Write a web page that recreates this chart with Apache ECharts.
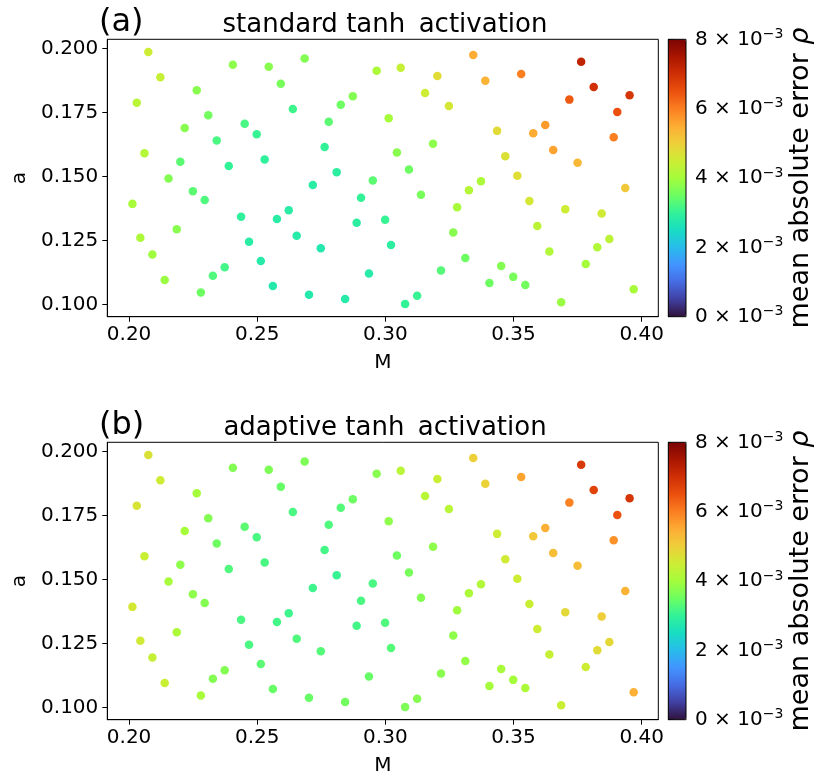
<!DOCTYPE html>
<html>
<head>
<meta charset="utf-8">
<script src="https://cdn.jsdelivr.net/npm/echarts@6/dist/echarts.min.js"></script>
<style>
html, body { margin: 0; padding: 0; background: #fff; }
#chart { width: 831px; height: 782px; }
</style>
</head>
<body>
<div id="chart"></div>
<script>
// sample positions (same in both panels)
var M = [0.2075,0.2122,0.2030,0.2405,0.2545,0.2685,0.2264,0.2592,0.2966,0.2873,
         0.2826,0.2639,0.2309,0.3013,0.2217,0.2451,0.2779,0.2498,0.2342,0.2763,
         0.2060,0.2200,0.2389,0.2529,0.2810,0.2154,0.2951,0.2013,0.2249,0.2295,
         0.2717,0.2905,0.2437,0.2577,0.2623,0.2888,0.2999,0.2044,0.2186,0.2468,
         0.2654,0.3022,0.2091,0.2514,0.2748,0.2373,0.2327,0.2936,0.2139,0.2561,
         0.2280,0.2702,0.2843,0.3060,0.3343,0.3764,0.3203,0.3390,0.3530,0.3813,
         0.3953,0.3718,0.3155,0.3248,0.3905,0.3436,0.3577,0.3624,0.3891,0.3045,
         0.3186,0.3468,0.3655,0.3750,0.3092,0.3515,0.3373,0.3936,0.3139,0.3326,
         0.3562,0.3280,0.3702,0.3844,0.3593,0.3265,0.3874,0.3640,0.3827,0.3312,
         0.3782,0.3452,0.3217,0.3499,0.3406,0.3546,0.3969,0.3124,0.3077,0.3686];
var A = [0.1986,0.1887,0.1788,0.1936,0.1928,0.1961,0.1837,0.1862,0.1913,0.1813,
         0.1780,0.1763,0.1739,0.1727,0.1689,0.1706,0.1714,0.1665,0.1640,0.1615,
         0.1591,0.1557,0.1541,0.1566,0.1516,0.1492,0.1484,0.1393,0.1442,0.1408,
         0.1467,0.1417,0.1343,0.1334,0.1368,0.1319,0.1331,0.1261,0.1294,0.1245,
         0.1269,0.1232,0.1195,0.1170,0.1220,0.1146,0.1112,0.1121,0.1096,0.1072,
         0.1047,0.1038,0.1022,0.1924,0.1974,0.1948,0.1892,0.1874,0.1900,0.1849,
         0.1817,0.1800,0.1826,0.1775,0.1752,0.1678,0.1669,0.1701,0.1653,0.1594,
         0.1628,0.1579,0.1603,0.1554,0.1527,0.1503,0.1481,0.1455,0.1429,0.1446,
         0.1404,0.1380,0.1372,0.1355,0.1307,0.1281,0.1256,0.1207,0.1224,0.1182,
         0.1158,0.1150,0.1133,0.1108,0.1084,0.1076,0.1060,0.1034,0.1002,0.1009];
// mean absolute error, in units of 1e-3
var errStandard = [4.5,4.4,4.25,3.8,3.75,3.7,3.75,3.6,4.1,3.7,
                   3.5,3.1,3.55,4.0,3.75,3.2,3.35,3.05,3.2,3.0,
                   4.2,3.35,3.0,2.95,2.9,3.7,3.35,4.05,3.35,3.25,
                   2.85,3.0,2.95,2.85,2.85,2.9,3.05,4.1,3.75,2.85,
                   2.8,2.9,3.95,2.8,2.75,3.15,3.25,2.8,3.9,2.75,
                   3.5,2.75,2.8,4.4,5.5,7.2,4.8,5.4,6.0,7.0,
                   6.9,6.4,4.5,4.6,6.5,4.8,5.5,5.7,6.0,3.75,
                   3.8,4.7,5.6,5.35,3.5,4.75,4.1,5.1,3.6,4.2,
                   4.6,4.05,4.5,4.55,4.3,3.75,4.3,4.15,4.15,3.5,
                   4.0,3.7,3.3,3.6,3.5,3.55,4.05,3.05,3.0,3.9];
var errAdaptive = [4.7,4.5,4.65,3.7,3.65,3.65,4.0,3.45,3.75,3.5,
                   3.3,3.2,3.7,3.8,4.0,3.35,3.25,3.2,3.5,3.15,
                   4.45,3.8,3.25,3.2,3.05,4.05,3.2,4.6,3.8,3.7,
                   3.1,3.2,3.2,3.15,3.1,3.15,3.25,4.55,4.1,3.2,
                   3.25,3.3,4.4,3.35,3.3,3.7,3.7,3.45,4.45,3.45,
                   4.05,3.45,3.55,4.25,5.0,6.85,4.45,4.95,5.6,6.7,
                   6.9,5.95,4.25,4.25,6.5,4.5,5.1,5.45,5.8,3.5,
                   3.8,4.55,5.25,5.25,3.6,4.5,4.15,5.4,3.7,4.1,
                   4.45,3.95,4.85,5.0,4.5,3.8,4.85,4.4,4.8,3.85,
                   4.5,4.05,3.75,4.0,4.0,4.1,5.45,3.7,3.65,4.45];

var xTicks = [0.20, 0.25, 0.30, 0.35, 0.40];
var yTicks = [0.100, 0.125, 0.150, 0.175, 0.200];
var cbTicks = [0, 0.002, 0.004, 0.006, 0.008];
var titles = ['standard tanh\u2009 activation', 'adaptive tanh\u2009 activation'];
var panels = ['(a)', '(b)'];

// turbo colormap
var turbo = ['#30123b','#4040a2','#466be3','#4294ff','#28bceb','#18ddc2','#32f298',
             '#6dfe62','#a4fc3b','#cded34','#eecf3a','#fdac34','#fb7e21','#eb500e',
             '#d02f05','#a91601','#7a0403'];

var FONT = 'DejaVu Sans';
var tops = [39.3, 442.3];
var H = 277.4;

function pts(err) {
    return M.map(function (m, i) { return [m, A[i], err[i] * 1e-3]; });
}

var grids = [], xAxes = [], yAxes = [], visualMaps = [], series = [], graphics = [];
var axisBase = {
    axisLine: { show: true, lineStyle: { color: '#000', width: 1 } },
    axisTick: { show: true, length: 5, lineStyle: { color: '#000', width: 1 } },
    splitLine: { show: false }
};

[errStandard, errAdaptive].forEach(function (err, k) {
    var top = tops[k];
    grids.push({ left: 107.3, top: top, width: 551, height: H, show: true,
                 borderColor: '#000', borderWidth: 1, backgroundColor: 'transparent' });
    grids.push({ left: 668.3, top: top, width: 17.7, height: H, show: true, z: 10,
                 borderColor: '#000', borderWidth: 1, backgroundColor: 'transparent' });

    xAxes.push(Object.assign({}, axisBase, {
        gridIndex: 2 * k, type: 'value', min: 0.1915, max: 0.4065,
        axisTick: { show: true, length: 5, customValues: xTicks, lineStyle: { color: '#000' } },
        axisLabel: { customValues: xTicks, margin: 8, color: '#000', fontFamily: FONT, fontSize: 20,
                     formatter: function (v) { return v.toFixed(2); } },
        name: 'M', nameLocation: 'middle', nameGap: 36,
        nameTextStyle: { color: '#000', fontFamily: FONT, fontSize: 20 }
    }));
    yAxes.push(Object.assign({}, axisBase, {
        gridIndex: 2 * k, type: 'value', min: 0.09525, max: 0.20355,
        axisTick: { show: true, length: 5, customValues: yTicks, lineStyle: { color: '#000' } },
        axisLabel: { customValues: yTicks, margin: 9, color: '#000', fontFamily: FONT, fontSize: 20,
                     formatter: function (v) { return v.toFixed(3); } },
        name: 'a', nameLocation: 'middle', nameGap: 71,
        nameTextStyle: { color: '#000', fontFamily: FONT, fontSize: 20 }
    }));

    xAxes.push({ gridIndex: 2 * k + 1, type: 'value', min: 0, max: 1, show: false });
    yAxes.push(Object.assign({}, axisBase, {
        gridIndex: 2 * k + 1, type: 'value', position: 'right', min: 0, max: 0.008, interval: 0.002,
        axisLabel: { margin: 9, color: '#000', fontFamily: FONT, fontSize: 20,
                     formatter: function (v) { return '{m|' + Math.round(v * 1000) + ' \u00d7 10}{s|\u22123}'; },
                     rich: { m: { fontFamily: FONT, fontSize: 20, color: '#000', lineHeight: 24 },
                             s: { fontFamily: FONT, fontSize: 14, color: '#000', verticalAlign: 'top', lineHeight: 24 } } },
        name: '{n|mean absolute error }{r|\u03c1}', nameLocation: 'middle', nameGap: 92, nameRotate: 90,
        nameTextStyle: { rich: { n: { fontFamily: FONT, fontSize: 27, color: '#000' },
                                 r: { fontFamily: FONT, fontSize: 27, fontStyle: 'italic', color: '#000' } } }
    }));

    visualMaps.push({
        type: 'continuous', seriesIndex: k, dimension: 2, min: 0, max: 0.008,
        inRange: { color: turbo }, calculable: false, hoverLink: false, text: null,
        left: 668.3, top: top, itemWidth: 17.7, itemHeight: H, padding: 0
    });

    series.push({
        type: 'scatter', xAxisIndex: 2 * k, yAxisIndex: 2 * k,
        data: pts(err), symbolSize: 8.5, itemStyle: { opacity: 1 }, silent: true
    });

    graphics.push({ type: 'text', x: 99, y: top - 17, style: {
        text: panels[k], fontFamily: FONT, fontSize: 32, fill: '#000', align: 'left', verticalAlign: 'middle' } });
    graphics.push({ type: 'text', x: 385, y: top - 14, style: {
        text: titles[k], fontFamily: FONT, fontSize: 26, fill: '#000', align: 'center', verticalAlign: 'middle' } });
});

var myChart = echarts.init(document.getElementById('chart'));
myChart.setOption({
    animation: false,
    backgroundColor: '#fff',
    textStyle: { fontFamily: FONT },
    grid: grids,
    xAxis: xAxes,
    yAxis: yAxes,
    visualMap: visualMaps,
    series: series,
    graphic: graphics
});
</script>
</body>
</html>
